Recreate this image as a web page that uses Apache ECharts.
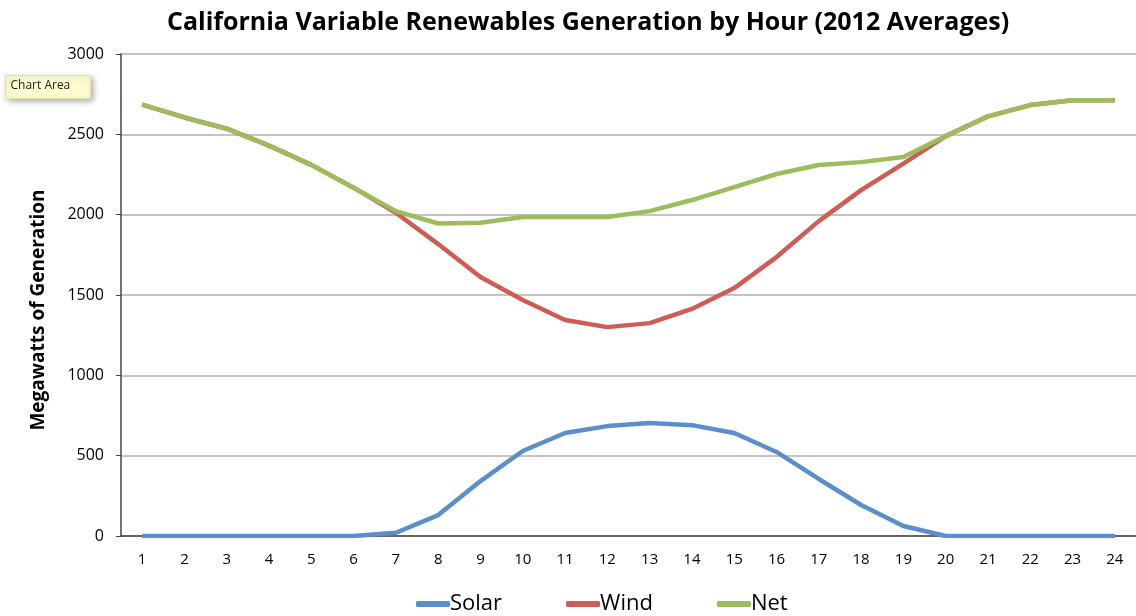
<!DOCTYPE html>
<html>
<head>
<meta charset="utf-8">
<script src="https://cdn.jsdelivr.net/npm/echarts@6/dist/echarts.min.js"></script>
<style>
html,body{margin:0;padding:0;background:#fff;}
#chart{width:1136px;height:616px;}
</style>
</head>
<body>
<div id="chart"></div>
<script>
const hours = ['1','2','3','4','5','6','7','8','9','10','11','12','13','14','15','16','17','18','19','20','21','22','23','24'];
const solar = [0,0,0,0,0,0,20,130,342,529,641,684,703,690,641,523,355,193,62,0,0,0,0,0];
const wind  = [2685,2605,2535,2430,2310,2168,2012,1817,1612,1469,1344,1300,1325,1413,1543,1736,1960,2153,2318,2489,2612,2682,2712,2712];
const net   = [2685,2605,2535,2430,2310,2168,2022,1945,1950,1985,1985,1985,2022,2091,2172,2253,2309,2327,2359,2489,2612,2682,2712,2712];
const yTicks = [0,500,1000,1500,2000,2500,3000];

const font = 'Open Sans';
const chart = echarts.init(document.getElementById('chart'));
chart.setOption({
  animation:false,
  backgroundColor:'#fff',
  title:{
    text:'California Variable Renewables Generation by Hour (2012 Averages)',
    left:162, top:5,
    textStyle:{fontFamily:font,fontWeight:'bold',fontSize:25,color:'#000'}
  },
  legend:{
    top:588, left:411, itemGap:64, itemWidth:34, itemHeight:6,
    icon:'roundRect',
    textStyle:{fontFamily:font,fontSize:22,color:'#000',padding:[0,0,0,-5]},
    data:['Solar','Wind','Net']
  },
  grid:{left:121, right:-1, top:54, bottom:80, containLabel:false},
  xAxis:{
    type:'category', data:hours, boundaryGap:true,
    axisLine:{lineStyle:{color:'#444',width:1.5}},
    axisTick:{show:false},
    axisLabel:{fontFamily:font,fontSize:15,color:'#000',margin:16},
    splitLine:{show:false}
  },
  yAxis:{
    type:'value', min:0, max:3000, interval:500,
    name:'Megawatts of Generation', nameLocation:'middle', nameGap:73,
    nameTextStyle:{fontFamily:font,fontWeight:'bold',fontSize:19,color:'#000',padding:[0,30,0,0]},
    axisLine:{show:true,lineStyle:{color:'#444',width:1.5}},
    axisTick:{show:true,length:5,lineStyle:{color:'#444'}},
    axisLabel:{fontFamily:font,fontSize:16,color:'#000',margin:17,
      formatter:function(v){return yTicks.indexOf(v)>=0?String(v):'';}},
    splitLine:{lineStyle:{color:'#c4c4c4',width:2}}
  },
  series:[
    {name:'Solar',type:'line',data:solar,symbol:'none',lineStyle:{color:'#5a8fcb',width:4.5},itemStyle:{color:'#5a8fcb'}},
    {name:'Wind',type:'line',data:wind,symbol:'none',lineStyle:{color:'#cd5d55',width:4.5},itemStyle:{color:'#cd5d55'}},
    {name:'Net',type:'line',data:net,symbol:'none',lineStyle:{color:'#9bbd5c',width:4.5},itemStyle:{color:'#9bbd5c'}}
  ],
  graphic:[{
    type:'group', left:5, top:75,
    children:[
      {type:'rect',shape:{x:0,y:0,width:85,height:23},
       style:{fill:'#fdfdd0',stroke:'#e0e0b0',lineWidth:1,shadowBlur:6,shadowColor:'rgba(0,0,0,0.3)',shadowOffsetX:2,shadowOffsetY:2}},
      {type:'text',x:5,y:4,style:{text:'Chart Area',fontFamily:font,fontSize:12,fill:'#222'}}
    ]
  }]
});
</script>
</body>
</html>
